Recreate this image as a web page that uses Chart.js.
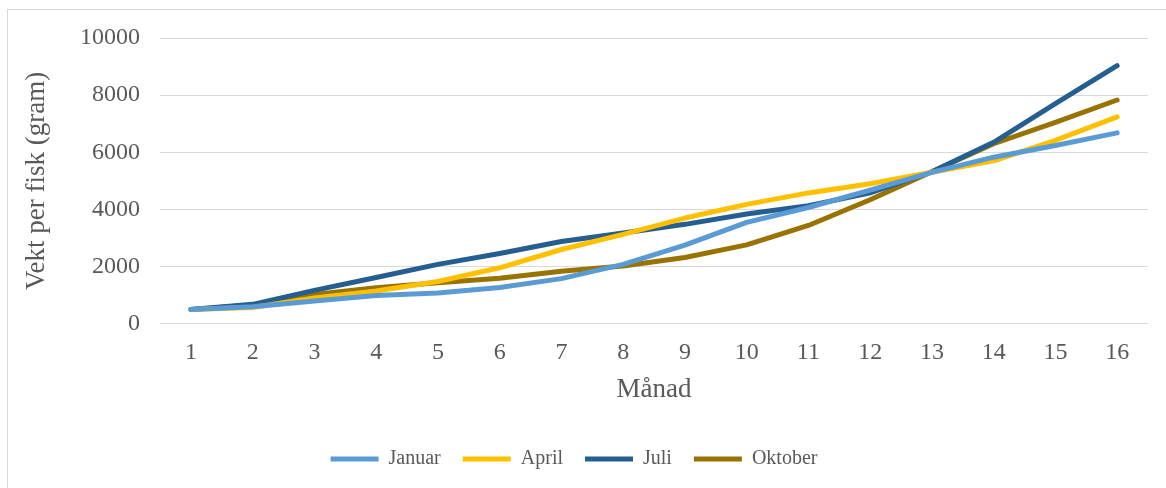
<!DOCTYPE html>
<html>
<head>
<meta charset="utf-8">
<script src="https://cdn.jsdelivr.net/npm/chart.js@4"></script>
<style>
  body { margin: 0; background: #fff; }
  #frame { position: absolute; left: 7px; top: 9px; width: 1170px; height: 490px; border: 1px solid #d9d9d9; }
  #wrap { position: absolute; left: 0; top: 0; width: 1166px; height: 488px; }
</style>
</head>
<body>
<div id="frame"></div>
<div id="wrap"><canvas id="myChart" width="1166" height="488"></canvas></div>
<script>
// month numbers on the x axis
var manad = ["1", "2", "3", "4", "5", "6", "7", "8", "9", "10", "11", "12", "13", "14", "15", "16"];

// weight per fish (gram), one series per start month
var januar  = [500, 600, 800, 990, 1080, 1270, 1580, 2080, 2750, 3550, 4070, 4680, 5300, 5830, 6240, 6680];
var april   = [500, 570, 900, 1150, 1480, 1960, 2600, 3130, 3700, 4180, 4580, 4900, 5300, 5700, 6420, 7240];
var juli    = [500, 680, 1170, 1620, 2080, 2460, 2880, 3180, 3480, 3840, 4130, 4580, 5320, 6350, 7700, 9030];
var oktober = [500, 660, 1030, 1260, 1440, 1590, 1840, 2020, 2320, 2760, 3440, 4340, 5320, 6300, 7050, 7830];

var fontFam = "'Liberation Serif', 'Times New Roman', serif";
var grey = "#595959";

function serie(label, data, colour) {
  return {
    label: label,
    data: data,
    borderColor: colour,
    backgroundColor: colour,
    borderWidth: 5,
    borderCapStyle: "round",
    borderJoinStyle: "round",
    pointRadius: 0,
    pointHoverRadius: 0,
    pointStyle: "line",
    tension: 0,
    fill: false
  };
}

var canvas = document.getElementById("myChart");
var myChart = new Chart(canvas, {
  type: "line",
  data: {
    labels: manad,
    datasets: [
      serie("Januar", januar, "#5B9BD5"),
      serie("April", april, "#FFC000"),
      serie("Juli", juli, "#255E91"),
      serie("Oktober", oktober, "#997300")
    ]
  },
  options: {
    responsive: false,
    animation: false,
    layout: { padding: { left: 0, right: 18, top: 38, bottom: 9 } },
    plugins: {
      tooltip: { enabled: false },
      legend: {
        position: "bottom",
        labels: {
          usePointStyle: true,
          pointStyle: "line",
          pointStyleWidth: 48,
          padding: 22,
          color: grey,
          font: { family: fontFam, size: 20 }
        }
      }
    },
    scales: {
      x: {
        offset: true,
        grid: { display: false },
        border: { display: false },
        ticks: { color: grey, padding: 7, font: { family: fontFam, size: 24 }, maxRotation: 0 },
        title: { display: true, text: "Månad", color: grey, padding: { top: -1, bottom: 21 }, font: { family: fontFam, size: 27 } }
      },
      y: {
        min: 0,
        max: 10000,
        afterFit: function (scale) { scale.width = 160; },
        grid: { color: "#d9d9d9", lineWidth: 1, drawTicks: false },
        border: { display: false },
        ticks: {
          stepSize: 2000,
          color: grey,
          padding: 20,
          font: { family: fontFam, size: 24 },
          callback: function (v) { return String(v); }
        },
        title: { display: true, text: "Vekt per fisk (gram)", color: grey, padding: { top: 21, bottom: 0 }, font: { family: fontFam, size: 27 } }
      }
    }
  }
});
</script>
</body>
</html>
